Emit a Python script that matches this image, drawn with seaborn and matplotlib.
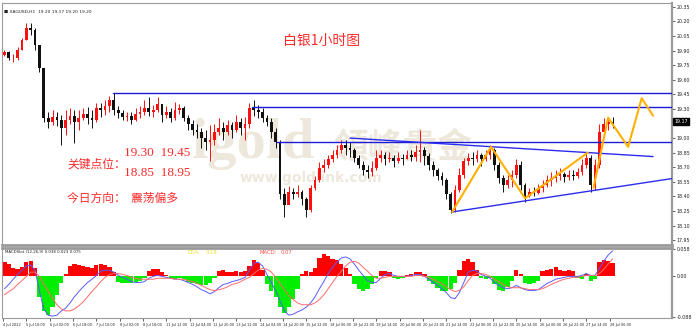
import numpy as np
import pandas as pd
import seaborn as sns
import matplotlib
matplotlib.use("Agg")
import matplotlib.pyplot as plt
import matplotlib.transforms as mtransforms

sns.set_theme(style="white")
plt.rcParams['font.family'] = ['DejaVu Sans', 'Noto Sans CJK SC']

# ---------------- data (3-hour candles) ----------------
first_open = 19.86
closes = [19.89, 19.82, 19.82, 19.91, 20.01, 20.13, 20.11, 19.96, 19.72, 19.21,
          19.17, 19.22, 19.19, 19.10, 19.19, 19.23, 19.17, 19.21, 19.25, 19.21,
          19.19, 19.31, 19.29, 19.33, 19.39, 19.29, 19.26, 19.22, 19.23, 19.19,
          19.25, 19.27, 19.31, 19.27, 19.29, 19.35, 19.24, 19.27, 19.21, 19.29,
          19.31, 19.21, 19.14, 19.08, 19.06, 19.00, 18.96, 18.98, 19.06, 19.10,
          19.06, 19.13, 19.08, 19.17, 19.10, 19.14, 19.31, 19.29, 19.27, 19.21,
          19.17, 19.06, 18.96, 18.42, 18.31, 18.45, 18.42, 18.45, 18.37, 18.26,
          18.49, 18.57, 18.69, 18.72, 18.78, 18.83, 18.88, 18.93, 18.90, 18.88,
          18.80, 18.72, 18.67, 18.65, 18.69, 18.80, 18.83, 18.78, 18.80, 18.76,
          18.80, 18.78, 18.83, 18.81, 18.86, 18.88, 18.82, 18.72, 18.67, 18.61,
          18.57, 18.42, 18.26, 18.47, 18.62, 18.76, 18.80, 18.78, 18.83, 18.78,
          18.83, 18.88, 18.72, 18.59, 18.52, 18.57, 18.62, 18.72, 18.52, 18.40,
          18.45, 18.44, 18.49, 18.52, 18.57, 18.59, 18.61, 18.63, 18.60, 18.62,
          18.61, 18.65, 18.72, 18.80, 18.52, 18.72, 19.06, 19.14, 19.17, 19.16]
highs = [19.91, 19.90, 19.87, 19.94, 20.03, 20.18, 20.18, 20.13, 19.96, 19.72,
         19.27, 19.29, 19.27, 19.24, 19.29, 19.31, 19.29, 19.29, 19.31, 19.32,
         19.29, 19.36, 19.36, 19.39, 19.43, 19.46, 19.33, 19.29, 19.27, 19.27,
         19.31, 19.33, 19.39, 19.42, 19.34, 19.42, 19.35, 19.33, 19.31, 19.37,
         19.35, 19.33, 19.24, 19.19, 19.14, 19.10, 19.08, 19.13, 19.14, 19.21,
         19.17, 19.19, 19.17, 19.24, 19.21, 19.22, 19.36, 19.39, 19.34, 19.31,
         19.24, 19.21, 19.10, 18.98, 18.49, 18.51, 18.49, 18.52, 18.47, 18.39,
         18.52, 18.61, 18.75, 18.78, 18.83, 18.88, 18.93, 18.98, 18.98, 18.96,
         18.90, 18.83, 18.76, 18.72, 18.76, 18.88, 18.88, 18.86, 18.86, 18.83,
         18.86, 18.84, 18.88, 18.88, 18.93, 19.08, 18.91, 18.85, 18.76, 18.69,
         18.65, 18.59, 18.45, 18.52, 18.69, 18.80, 18.85, 18.86, 18.88, 18.85,
         18.88, 18.93, 18.90, 18.75, 18.62, 18.62, 18.67, 18.78, 18.76, 18.54,
         18.49, 18.50, 18.53, 18.57, 18.62, 18.65, 18.67, 18.69, 18.65, 18.67,
         18.67, 18.69, 18.78, 18.86, 18.83, 18.78, 19.14, 19.21, 19.21, 19.22]
lows = [19.84, 19.80, 19.78, 19.80, 19.91, 20.01, 20.06, 19.91, 19.68, 19.17,
        19.10, 19.13, 19.12, 18.93, 19.03, 19.15, 18.95, 19.08, 19.19, 19.14,
        19.10, 19.17, 19.22, 19.24, 19.27, 19.24, 19.21, 19.19, 19.18, 19.15,
        19.18, 19.21, 19.24, 19.23, 19.22, 19.27, 19.17, 19.21, 19.17, 19.19,
        19.25, 19.18, 19.08, 19.03, 19.00, 18.90, 18.88, 18.76, 18.93, 19.03,
        18.98, 19.03, 19.00, 19.06, 19.03, 18.98, 19.10, 19.23, 19.21, 19.17,
        19.12, 19.00, 18.90, 18.37, 18.19, 18.37, 18.37, 18.39, 18.31, 18.19,
        18.24, 18.47, 18.55, 18.65, 18.69, 18.75, 18.80, 18.85, 18.83, 18.81,
        18.75, 18.69, 18.62, 18.59, 18.61, 18.67, 18.75, 18.72, 18.75, 18.70,
        18.74, 18.72, 18.78, 18.76, 18.76, 18.75, 18.72, 18.67, 18.61, 18.57,
        18.52, 18.37, 18.23, 18.24, 18.45, 18.59, 18.72, 18.72, 18.75, 18.71,
        18.76, 18.78, 18.67, 18.54, 18.45, 18.49, 18.50, 18.59, 18.47, 18.34,
        18.39, 18.40, 18.42, 18.45, 18.50, 18.51, 18.55, 18.57, 18.55, 18.57,
        18.57, 18.59, 18.62, 18.69, 18.45, 18.47, 18.69, 19.03, 19.08, 19.10]

# MACD panel values, in thousandths
macd_hist = [30, 26, 17, 15, 19, 30, 32, 17, -43, -73,
             -82, -65, -39, -13, 6, 22, 26, 24, 22, 19,
             17, 24, 26, 24, 19, 9, -11, -15, -13, -15,
             -11, -9, -4, 11, 15, 15, 9, 2, -4, -6,
             -4, -6, -11, -15, -17, -19, -19, -15, -4, 11,
             13, 9, 9, 11, 9, 11, 22, 34, 28, 13,
             -17, -30, -43, -65, -77, -65, -47, -26, 6, 11,
             9, 17, 39, 47, 43, 37, 34, 26, 17, 4,
             -17, -26, -30, -26, -17, -4, 11, 11, 9, -4,
             -6, -4, 2, 6, 9, 9, 4, -9, -17, -24,
             -30, -30, -26, -13, 13, 32, 37, 30, 13, -4,
             -6, -4, -17, -28, -30, -22, -9, 13, 6, -13,
             -17, -15, -9, 11, 13, 15, 19, 13, 11, 13,
             11, -4, -6, 6, -9, -6, 30, 34, 32, 28]
macd_line = [-26, -17, -6, 4, 13, 22, 24, 13, -32, -69,
             -82, -84, -82, -73, -67, -56, -43, -32, -22, -13,
             -6, 2, 11, 13, 13, 9, 2, -2, -6, -11,
             -13, -13, -11, -4, 0, 2, 0, -2, -4, -6,
             -6, -9, -13, -17, -22, -28, -32, -37, -32, -24,
             -17, -15, -11, -9, -6, -2, 13, 28, 30, 22,
             4, -13, -30, -52, -73, -82, -80, -75, -71, -65,
             -56, -43, -26, -11, 6, 19, 30, 39, 41, 37,
             26, 13, 2, -9, -13, -13, -4, 4, 6, 2,
             0, 0, 0, 2, 4, 4, 0, -6, -13, -19,
             -26, -34, -45, -47, -34, -13, 9, 13, 11, 4,
             0, -4, -13, -19, -24, -26, -24, -19, -24, -28,
             -30, -30, -28, -22, -15, -11, -6, -4, -2, 0,
             0, 0, 2, 6, 2, 2, 17, 32, 45, 54]
signal_line = [-39, -32, -26, -17, -9, 0, 9, 9, 0, -17,
               -32, -47, -60, -69, -73, -73, -69, -62, -54, -43,
               -32, -22, -11, -2, 4, 6, 6, 4, 2, -2,
               -4, -6, -6, -6, -6, -4, -4, -4, -4, -6,
               -6, -6, -9, -11, -15, -19, -24, -28, -30, -28,
               -26, -22, -17, -15, -11, -6, -2, 6, 13, 17,
               15, 9, -2, -15, -28, -41, -49, -56, -60, -60,
               -60, -56, -49, -39, -26, -13, 0, 11, 22, 30,
               32, 28, 19, 11, 2, -4, -4, -2, 0, 0,
               0, 0, 0, 0, 2, 2, 0, -2, -6, -11,
               -15, -22, -28, -32, -30, -22, -9, 2, 6, 6,
               4, 0, -6, -11, -17, -22, -24, -24, -24, -26,
               -28, -28, -28, -26, -22, -17, -13, -9, -6, -4,
               -2, -2, 0, 2, 2, 2, 6, 15, 26, 37]

time_labels = ["4 Jul 2022", "5 Jul 10:00", "6 Jul 02:00", "6 Jul 18:00", "7 Jul 10:00",
               "8 Jul 02:00", "8 Jul 18:00", "11 Jul 12:00", "12 Jul 04:00", "12 Jul 20:00",
               "13 Jul 12:00", "14 Jul 04:00", "14 Jul 20:00", "15 Jul 12:00", "18 Jul 06:00",
               "18 Jul 22:00", "19 Jul 14:00", "20 Jul 06:00", "20 Jul 22:00", "21 Jul 14:00",
               "22 Jul 06:00", "22 Jul 22:00", "25 Jul 14:00", "26 Jul 06:00", "26 Jul 22:00",
               "27 Jul 14:00", "28 Jul 06:00"]
price_ticks = [20.35, 20.20, 20.05, 19.90, 19.75, 19.60, 19.45, 19.30,
               19.00, 18.85, 18.70, 18.55, 18.40, 18.25, 18.10, 17.95]
last_price = 19.17

# drawn analysis lines (hour index, price)
hlines_start = [75.4, 170.8, 188.0]
hlines_price = [19.46, 19.32, 18.96]
tri_upper_x = [238.0, 445.8]
tri_upper_y = [19.00, 18.81]
tri_lower_x = [308.0, 461.6]
tri_lower_y = [18.24, 18.59]
path1_x = [308.0, 334.7, 358.0, 401.0]
path1_y = [18.24, 18.91, 18.38, 18.85]
path2_x = [405.0, 415.0, 428.7, 438.0, 445.8]
path2_y = [18.49, 19.21, 18.91, 19.41, 19.23]

# ---------------- build frame ----------------
n = len(closes)
opens = [first_open] + closes[:-1]
df = pd.DataFrame({"open": opens, "high": highs, "low": lows, "close": closes})
df["t"] = 3 * np.arange(n) + 1
df["up"] = df["close"] >= df["open"]
mdf = pd.DataFrame({"t": df["t"], "hist": np.array(macd_hist) / 1000.0,
                    "macd": np.array(macd_line) / 1000.0,
                    "signal": np.array(signal_line) / 1000.0})

W, H = 700, 328
fig = plt.figure(figsize=(7.0, 3.28), dpi=100)
fig.patch.set_facecolor("white")
ax = fig.add_axes([2 / W, 83 / H, 670 / W, 242 / H])
ax2 = fig.add_axes([2 / W, 10 / H, 670 / W, 70 / H])

XMAX = 458.8
for a in (ax, ax2):
    a.set_xlim(-0.7, XMAX)
    a.set_facecolor("white")
    for s in a.spines.values():
        s.set_color("#9a9a9a")
        s.set_linewidth(0.8)
    a.spines["right"].set_linewidth(1.6)
ax.spines["bottom"].set_linewidth(2.0)
ax2.spines["top"].set_linewidth(2.0)

ax.set_ylim(17.90, 20.39)

# watermark
wm = "#EEE8DC"
ax.text(192 / W, 1 - 158 / H, "igold", transform=fig.transFigure, fontsize=42,
        family=["Liberation Serif"], fontweight="bold", color=wm, zorder=0, va="baseline")
ax.text(333 / W, 1 - 158 / H, "領峰貴金", transform=fig.transFigure, fontsize=25,
        family=["Noto Sans CJK TC"], fontweight="bold", color=wm, zorder=0, va="baseline")
ax.text(240 / W, 1 - 178 / H, "www.goldlink.com", transform=fig.transFigure, fontsize=10,
        family=["DejaVu Sans"], fontweight="bold", color=wm, zorder=0, va="center")

# candles
colors = np.where(df["up"], "#FF1010", "#111111")
ax.vlines(df["t"], df["low"], df["high"], colors=colors, linewidth=0.7, zorder=2)
body_bottom = np.minimum(df["open"], df["close"])
body_h = np.maximum(np.abs(df["close"] - df["open"]), 0.006)
ax.bar(df["t"], body_h, bottom=body_bottom, width=1.9, color=colors, linewidth=0, zorder=3)

# analysis lines
for xs, yp in zip(hlines_start, hlines_price):
    sns.lineplot(x=[xs, XMAX], y=[yp, yp], ax=ax, color="#1c1cd6", linewidth=1.0, zorder=4)
sns.lineplot(x=tri_upper_x, y=tri_upper_y, ax=ax, color="#2b2bf0", linewidth=1.0, zorder=4)
sns.lineplot(x=tri_lower_x, y=tri_lower_y, ax=ax, color="#2b2bf0", linewidth=1.0, zorder=4)
sns.lineplot(x=path1_x, y=path1_y, ax=ax, color="#FFB000", linewidth=1.5, zorder=5, sort=False)
sns.lineplot(x=path2_x, y=path2_y, ax=ax, color="#FFB000", linewidth=1.5, zorder=5, sort=False)

# y axis right
ax.yaxis.tick_right()
ax.set_yticks(price_ticks)
ax.set_yticklabels([f"{v:.2f}" for v in price_ticks])
ax.tick_params(axis="y", labelsize=3.4, length=2, width=0.5, colors="#222222", pad=1.5, right=True)
ax.set_xticks([])
ax.set_xlabel("")
ax.set_ylabel("")
ax.text(1.003, last_price, f"{last_price:.2f}",
        transform=mtransforms.blended_transform_factory(ax.transAxes, ax.transData),
        fontsize=3.4, color="white", va="center", ha="left",
        bbox=dict(boxstyle="square,pad=0.25", fc="black", ec="black"))

# header
fig.text(4 / W, 1 - 12 / H, "\u25a0 XAGUSD,H1  19.20 19.17 19.20 19.20", fontsize=3.2, color="#222222",
         va="center", family=["DejaVu Sans"])

# red annotation text
red = "#FF2B2B"
fig.text(322 / W, 1 - 41 / H, "白银1小时图", color=red, fontsize=10, ha="center", va="center",
         family=["Noto Sans CJK SC"])
fig.text(67 / W, 1 - 164 / H, "关键点位：", color=red, fontsize=8.5, va="center",
         family=["Noto Sans CJK SC"])
fig.text(124 / W, 1 - 153 / H, "19.30  19.45", color=red, fontsize=9.5, va="center",
         family=["Liberation Serif"])
fig.text(124 / W, 1 - 173 / H, "18.85  18.95", color=red, fontsize=9.5, va="center",
         family=["Liberation Serif"])
fig.text(67 / W, 1 - 198 / H, "今日方向：  震荡偏多", color=red, fontsize=8.5, va="center",
         family=["Noto Sans CJK SC"])

# ---------------- MACD panel ----------------
ax2.set_ylim(-0.088, 0.060)
hcol = np.where(mdf["hist"] >= 0, "#FF0000", "#00EE00")
ax2.bar(mdf["t"], mdf["hist"], width=2.9, color=hcol, linewidth=0, zorder=2)
sns.lineplot(data=mdf, x="t", y="macd", ax=ax2, color="#5a5aff", linewidth=0.7, zorder=3)
sns.lineplot(data=mdf, x="t", y="signal", ax=ax2, color="#ff6a6a", linewidth=0.7, zorder=3)
ax2.yaxis.tick_right()
ax2.set_yticks([0.058, 0.0, -0.086])
ax2.set_yticklabels(["0.058", "0.00", "-0.088"])
ax2.tick_params(axis="y", labelsize=3.4, length=2, width=0.5, colors="#222222", pad=1.5, right=True)
ax2.set_xticks([16 * k for k in range(len(time_labels))])
ax2.set_xticklabels(time_labels, ha="left")
ax2.tick_params(axis="x", labelsize=2.5, length=2, width=0.5, colors="#222222", pad=1.5, bottom=True)
ax2.set_xlabel("")
ax2.set_ylabel("")
ax2.text(3 / 670, 0.97, "MACDSlot (12,26,9) 0.038 0.023 0.075", transform=ax2.transAxes,
         fontsize=2.8, color="#222222", va="top")
ax2.text(185 / 670, 0.97, "DEA:", transform=ax2.transAxes, fontsize=3.8, color="#E8E030", va="top")
ax2.text(204 / 670, 0.97, "0.18", transform=ax2.transAxes, fontsize=3.8, color="#E8E030", va="top")
ax2.text(257 / 670, 0.97, "MACD:", transform=ax2.transAxes, fontsize=3.8, color="#FF5050", va="top")
ax2.text(279 / 670, 0.97, "0.07", transform=ax2.transAxes, fontsize=3.8, color="#FF5050", va="top")

fig.savefig("out.png", dpi=100, facecolor="white")
